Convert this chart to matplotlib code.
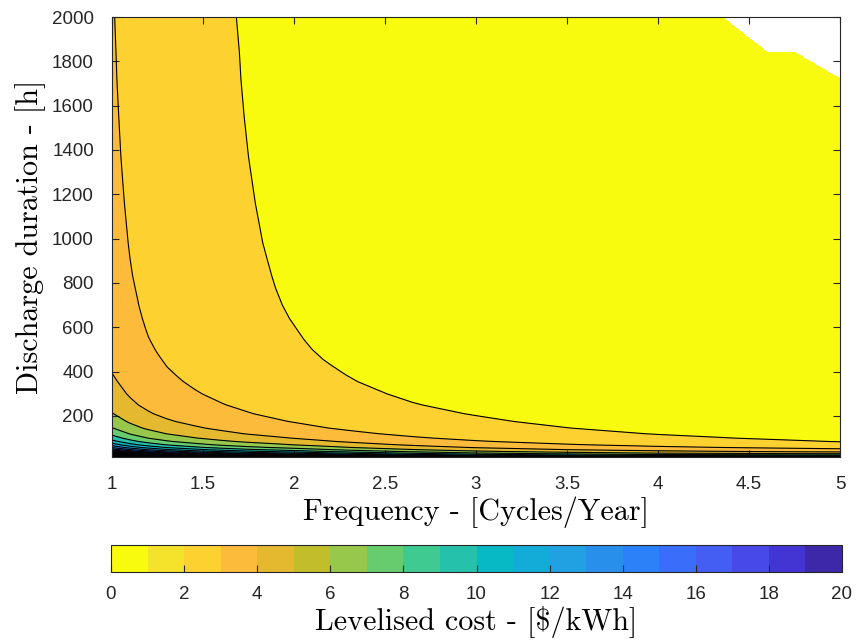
import numpy as np
import matplotlib
matplotlib.use("Agg")
import matplotlib.pyplot as plt
from matplotlib.colors import ListedColormap, Normalize
from matplotlib.cm import ScalarMappable

# ---------------- data ----------------
frequency = [1, 1.1, 1.15, 1.2, 1.25, 1.3, 1.375, 1.45, 1.525, 1.6, 1.75, 1.9,
             2.0, 2.1, 2.2, 2.35, 2.65, 3, 3.5, 4, 4.35, 4.6, 4.75, 5]   # cycles / year
duration = [15, 18, 22, 27, 33, 40, 48, 58, 70, 85, 100, 120, 145, 175, 210,
            250, 300, 355, 385, 420, 455, 500, 545, 590, 640, 700, 830, 980,
            1160, 1370, 1550, 1720, 1840, 2000]                          # hours
nan = float("nan")
# levelised cost [$/kWh]: one row per duration, one column per frequency
cost = [
    [46.53, 40.17, 37.89, 35.89, 34.26, 32.71, 31.06, 29.49, 28.20, 26.98, 25.08, 23.89, 22.92, 21.96, 20.96, 19.53, 17.23, 15.09, 13.37, 12.37, 12.05, 11.89, 11.79, 11.82],
    [39.20, 33.83, 31.91, 30.22, 28.85, 27.54, 26.15, 24.82, 23.73, 22.70, 21.09, 20.06, 19.24, 18.43, 17.58, 16.38, 14.43, 12.62, 11.15, 10.27, 9.97, 9.81, 9.71, 9.70],
    [32.53, 28.08, 26.47, 25.07, 23.93, 22.84, 21.68, 20.58, 19.67, 18.81, 17.46, 16.59, 15.90, 15.22, 14.51, 13.51, 11.88, 10.38, 9.13, 8.36, 8.08, 7.92, 7.82, 7.78],
    [26.97, 23.28, 21.95, 20.78, 19.83, 18.93, 17.96, 17.05, 16.28, 15.57, 14.44, 13.69, 13.11, 12.54, 11.95, 11.12, 9.76, 8.51, 7.45, 6.77, 6.51, 6.35, 6.25, 6.18],
    [22.53, 19.44, 18.32, 17.34, 16.55, 15.80, 14.98, 14.22, 13.58, 12.98, 12.02, 11.38, 10.89, 10.40, 9.91, 9.21, 8.07, 7.02, 6.10, 5.50, 5.25, 5.09, 4.99, 4.89],
    [19.03, 16.42, 15.47, 14.64, 13.97, 13.33, 12.64, 11.99, 11.45, 10.94, 10.12, 9.55, 9.13, 8.71, 8.30, 7.70, 6.73, 5.84, 5.04, 4.50, 4.26, 4.10, 4.00, 3.88],
    [16.28, 14.04, 13.23, 12.51, 11.94, 11.39, 10.80, 10.24, 9.77, 9.33, 8.62, 8.12, 7.75, 7.39, 7.03, 6.52, 5.68, 4.92, 4.21, 3.71, 3.48, 3.32, 3.22, 3.09],
    [13.91, 11.99, 11.30, 10.68, 10.19, 9.72, 9.21, 8.73, 8.33, 7.95, 7.33, 6.88, 6.56, 6.25, 5.94, 5.50, 4.77, 4.12, 3.49, 3.03, 2.80, 2.64, 2.55, 2.40],
    [11.96, 10.31, 9.71, 9.17, 8.75, 8.35, 7.90, 7.49, 7.14, 6.81, 6.27, 5.87, 5.58, 5.31, 5.04, 4.66, 4.03, 3.46, 2.90, 2.47, 2.25, 2.09, 2.00, 1.84],
    [10.29, 8.87, 8.35, 7.89, 7.52, 7.18, 6.79, 6.43, 6.12, 5.84, 5.37, 5.00, 4.75, 4.51, 4.27, 3.94, 3.39, 2.90, 2.39, 2.00, 1.78, 1.62, 1.52, 1.36],
    [9.13, 7.87, 7.40, 6.99, 6.66, 6.36, 6.01, 5.69, 5.42, 5.16, 4.73, 4.39, 4.17, 3.94, 3.74, 3.44, 2.95, 2.51, 2.04, 1.66, 1.45, 1.29, 1.20, 1.03],
    [8.03, 6.92, 6.50, 6.14, 5.85, 5.58, 5.27, 4.99, 4.75, 4.52, 4.13, 3.82, 3.61, 3.41, 3.23, 2.97, 2.53, 2.14, 1.71, 1.35, 1.14, 0.98, 0.88, 0.71],
    [7.08, 6.10, 5.73, 5.40, 5.15, 4.91, 4.64, 4.39, 4.17, 3.97, 3.62, 3.33, 3.14, 2.96, 2.79, 2.56, 2.17, 1.82, 1.42, 1.08, 0.87, 0.71, 0.61, 0.43],
    [6.30, 5.42, 5.09, 4.80, 4.57, 4.36, 4.12, 3.89, 3.69, 3.51, 3.19, 2.92, 2.75, 2.58, 2.43, 2.22, 1.87, 1.56, 1.18, 0.85, 0.65, 0.49, 0.39, 0.21],
    [5.67, 4.88, 4.58, 4.32, 4.11, 3.92, 3.69, 3.49, 3.31, 3.14, 2.85, 2.59, 2.43, 2.28, 2.14, 1.95, 1.63, 1.35, 0.99, 0.67, 0.47, 0.31, 0.22, 0.10],
    [5.17, 4.45, 4.17, 3.93, 3.74, 3.57, 3.36, 3.17, 3.00, 2.85, 2.58, 2.33, 2.18, 2.04, 1.91, 1.74, 1.44, 1.18, 0.84, 0.53, 0.33, 0.17, 0.10, 0.10],
    [4.73, 4.07, 3.81, 3.59, 3.41, 3.26, 3.06, 2.89, 2.74, 2.59, 2.34, 2.10, 1.96, 1.82, 1.71, 1.55, 1.27, 1.03, 0.71, 0.40, 0.20, 0.10, 0.10, 0.10],
    [4.39, 3.77, 3.54, 3.32, 3.16, 3.02, 2.84, 2.67, 2.53, 2.40, 2.15, 1.92, 1.79, 1.66, 1.55, 1.40, 1.14, 0.92, 0.60, 0.31, 0.11, 0.10, 0.10, 0.10],
    [4.24, 3.65, 3.42, 3.21, 3.06, 2.92, 2.74, 2.58, 2.44, 2.31, 2.07, 1.85, 1.71, 1.59, 1.48, 1.34, 1.08, 0.87, 0.56, 0.26, 0.10, 0.10, 0.10, 0.10],
    [4.10, 3.52, 3.30, 3.10, 2.95, 2.81, 2.64, 2.49, 2.35, 2.23, 2.00, 1.77, 1.64, 1.52, 1.42, 1.28, 1.03, 0.82, 0.52, 0.22, 0.10, 0.10, 0.10, 0.10],
    [3.98, 3.42, 3.20, 3.01, 2.86, 2.73, 2.56, 2.41, 2.28, 2.16, 1.93, 1.71, 1.58, 1.46, 1.36, 1.22, 0.98, 0.78, 0.48, 0.19, 0.10, 0.10, 0.10, 0.10],
    [3.85, 3.31, 3.10, 2.91, 2.76, 2.64, 2.47, 2.33, 2.20, 2.08, 1.86, 1.64, 1.52, 1.40, 1.30, 1.17, 0.93, 0.73, 0.44, 0.15, 0.10, 0.10, 0.10, 0.10],
    [3.74, 3.21, 3.01, 2.82, 2.68, 2.56, 2.40, 2.26, 2.13, 2.02, 1.80, 1.58, 1.46, 1.35, 1.25, 1.12, 0.89, 0.70, 0.41, 0.12, 0.10, 0.10, 0.10, 0.10],
    [3.65, 3.13, 2.93, 2.75, 2.62, 2.50, 2.34, 2.20, 2.08, 1.96, 1.75, 1.54, 1.42, 1.30, 1.21, 1.08, 0.86, 0.67, 0.38, 0.10, 0.10, 0.10, 0.10, 0.10],
    [3.56, 3.06, 2.86, 2.68, 2.55, 2.43, 2.28, 2.15, 2.02, 1.91, 1.70, 1.49, 1.37, 1.26, 1.17, 1.04, 0.82, 0.64, 0.35, 0.10, 0.10, 0.10, 0.10, 0.10],
    [3.47, 2.98, 2.79, 2.62, 2.49, 2.37, 2.22, 2.09, 1.97, 1.86, 1.66, 1.44, 1.33, 1.22, 1.13, 1.01, 0.79, 0.61, 0.33, 0.10, 0.10, 0.10, 0.10, 0.10],
    [3.33, 2.85, 2.67, 2.50, 2.38, 2.27, 2.12, 2.00, 1.88, 1.77, 1.58, 1.37, 1.25, 1.15, 1.06, 0.94, 0.73, 0.56, 0.28, 0.10, 0.10, 0.10, 0.10, 0.10],
    [3.20, 2.75, 2.57, 2.41, 2.29, 2.18, 2.04, 1.92, 1.81, 1.70, 1.51, 1.30, 1.19, 1.09, 1.01, 0.89, 0.69, 0.52, 0.24, 0.10, 0.10, 0.10, 0.10, 0.10],
    [3.10, 2.66, 2.48, 2.33, 2.21, 2.11, 1.97, 1.85, 1.74, 1.64, 1.45, 1.25, 1.14, 1.04, 0.96, 0.84, 0.65, 0.48, 0.21, 0.10, 0.10, 0.10, 0.10, 0.10],
    [3.01, 2.58, 2.41, 2.26, 2.15, 2.05, 1.91, 1.80, 1.69, 1.59, 1.40, 1.20, 1.10, 1.00, 0.92, 0.81, 0.61, 0.45, 0.19, 0.10, 0.10, 0.10, 0.10, 0.10],
    [2.96, 2.53, 2.37, 2.22, 2.10, 2.01, 1.88, 1.76, 1.65, 1.56, 1.37, 1.18, 1.07, 0.97, 0.89, 0.78, 0.59, 0.43, 0.17, 0.10, 0.10, 0.10, 0.10, 0.10],
    [2.91, 2.50, 2.33, 2.18, 2.07, 1.98, 1.85, 1.73, 1.63, 1.53, 1.35, 1.15, 1.05, 0.95, 0.87, 0.76, 0.58, 0.42, 0.16, 0.10, 0.10, 0.10, 0.10, 0.10],
    [2.89, 2.48, 2.31, 2.16, 2.05, 1.96, 1.83, 1.72, 1.61, 1.52, 1.34, 1.14, 1.03, 0.94, 0.86, 0.75, 0.57, 0.41, 0.15, 0.10, 0.10, 0.10, 0.10, nan],
    [2.86, 2.45, 2.29, 2.14, 2.03, 1.94, 1.81, 1.70, 1.60, 1.50, 1.32, 1.13, 1.02, 0.92, 0.85, 0.74, 0.56, 0.40, 0.14, 0.10, 0.10, nan, nan, nan],
]
x_ticks = [1, 1.5, 2, 2.5, 3, 3.5, 4, 4.5, 5]
x_tick_labels = ["1", "1.5", "2", "2.5", "3", "3.5", "4", "4.5", "5"]
y_ticks = [200, 400, 600, 800, 1000, 1200, 1400, 1600, 1800, 2000]
cbar_ticks = [0, 2, 4, 6, 8, 10, 12, 14, 16, 18, 20]

# ---------------- style ----------------
level_step = 1.4
levels = np.arange(0, 48.0, level_step)
band_colors = ["#F9FB0E", "#F5E22A", "#FCD130", "#FDBB3C", "#E4B92F", "#C2BE2B",
               "#97C84B", "#66CC6D", "#3ECA90", "#25C1AB", "#07B9C5", "#13ACD9",
               "#22A1E2", "#2890EB", "#2C80F8", "#3A6EFA", "#445DF3", "#4849E9",
               "#4335D3", "#3C28A8"]
cmap = ListedColormap(band_colors)
cmap.set_over(band_colors[-1])
norm = Normalize(vmin=0, vmax=20)

plt.rcParams["font.family"] = ["Liberation Sans", "DejaVu Sans"]
edge = "#262626"
label_font = dict(family="cmr10", size=21.7, color="black")

fig = plt.figure(figsize=(8.56, 6.42), dpi=100)
ax = fig.add_axes([112 / 856, 1 - 457 / 642, 728 / 856, 440 / 642])

F, D = np.meshgrid(frequency, duration)
Z = np.ma.masked_invalid(np.array(cost, dtype=float))
ax.contourf(F, D, Z, levels=levels, cmap=cmap, norm=norm)
ax.contour(F, D, Z, levels=levels, colors="k", linewidths=0.8)

ax.set_xlim(1, 5)
ax.set_ylim(15, 2000)
ax.set_xticks(x_ticks)
ax.set_xticklabels(x_tick_labels)
ax.set_yticks(y_ticks)
ax.tick_params(direction="in", top=True, right=True, length=5, width=0.8,
               color=edge, labelsize=13.5, labelcolor="#262626")
ax.tick_params(axis="y", pad=13)
ax.tick_params(axis="x", pad=14)
for s in ax.spines.values():
    s.set_color(edge)
    s.set_linewidth(0.8)

ax.set_xlabel("Frequency - [Cycles/Year]", fontdict=label_font, labelpad=2)
ax.set_ylabel("Discharge duration - [h]", fontdict=label_font, labelpad=4)

cax = fig.add_axes([111 / 856, 1 - 572 / 642, 731 / 856, 27 / 642])
cb = fig.colorbar(ScalarMappable(norm=norm, cmap=cmap), cax=cax,
                  orientation="horizontal", ticks=cbar_ticks)
cb.ax.tick_params(direction="in", length=5, width=0.8, color=edge,
                  labelsize=13.5, labelcolor="#262626", pad=10)
cb.outline.set_edgecolor(edge)
cb.outline.set_linewidth(0.8)
cb.set_label("Levelised cost - [$/kWh]", fontdict=label_font, labelpad=2)

fig.savefig("out.png", dpi=100)
